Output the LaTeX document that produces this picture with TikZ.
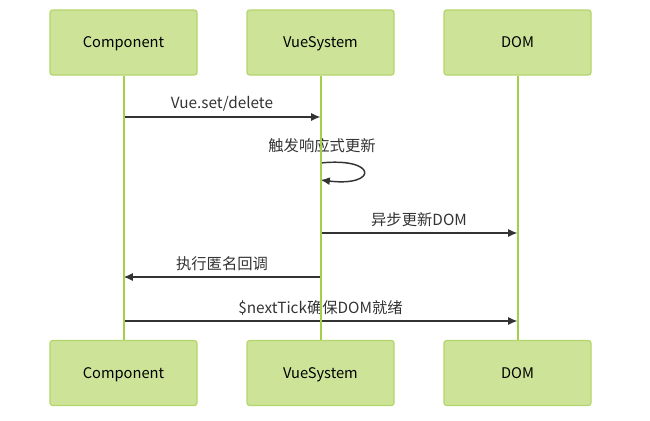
\documentclass[tikz,border=0pt]{standalone}
\usepackage{fontspec}
\setmainfont{Noto Sans CJK SC}
\usetikzlibrary{arrows.meta,calc,positioning}
\definecolor{boxfill}{HTML}{CDE498}
\definecolor{boxline}{HTML}{B3D56C}
\definecolor{lifeline}{HTML}{A6CE4C}
\definecolor{msgline}{HTML}{333333}

\begin{document}
\begin{tikzpicture}[x=0.75pt,y=-0.75pt,>={Latex[length=7pt,width=6pt]},node distance=147.75pt,
    actor/.style={draw=boxline,fill=boxfill,line width=0.9pt,rounded corners=2pt,
                  minimum width=110.25pt,minimum height=48.75pt,
                  text height=9pt,text depth=1pt,font=\fontsize{11}{13}\selectfont},
    life/.style={draw=lifeline,line width=1.5pt},
    msg/.style={->,draw=msgline,line width=1.1pt},
    lbl/.style={font=\fontsize{11.5}{13}\selectfont,text=msgline,inner sep=1pt}]
		\useasboundingbox (0,0) rectangle (650,421);
		\node[actor]         (Ct)    at (123.5,42.5)    {Component};
		\node[actor]         (Vt)    [right of=Ct]      {VueSystem};
		\node[actor]         (Dt)    [right of=Vt]      {DOM};
		\node[actor]         (Cb)    at (123.5,373)     {Component};
		\node[actor]         (Vb)    [right of=Cb]      {VueSystem};
		\node[actor]         (Db)    [right of=Vb]      {DOM};
		% messages
		\draw[msg] (Ct |- 0,117) -- node[lbl,above=3pt] {Vue.set/delete} (Vt |- 0,117);
		\node[lbl] (loop) at (322,146) {触发响应式更新};
		\draw[msg] (Vt |- 0,163) .. controls (378,157) and (378,187) .. (Vt |- 0,180);
		\draw[msg] (Vt |- 0,233) -- node[lbl,above=3pt] {异步更新DOM} (Dt |- 0,233);
		\draw[msg] (Vt |- 0,277) -- node[lbl,above=3pt] {执行匿名回调} (Ct |- 0,277);
		\draw[msg] (Ct |- 0,321) -- node[lbl,above=3pt] {\$nextTick确保DOM就绪} (Dt |- 0,321);
		% lifelines
		\draw[life] (Ct.south) -- (Cb.north)
		            (Vt.south) -- (Vb.north)
		            (Dt.south) -- (Db.north);
\end{tikzpicture}
\end{document}
